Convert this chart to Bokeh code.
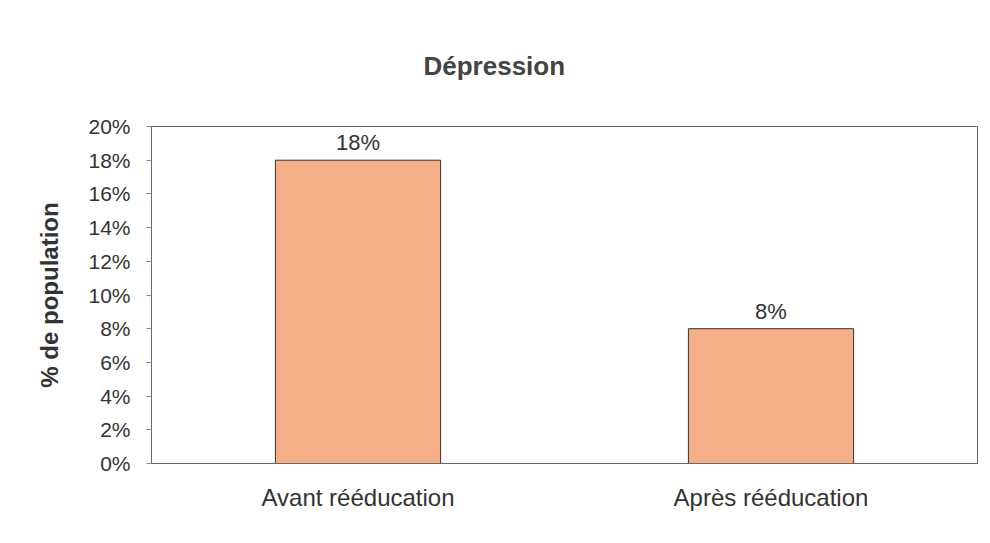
from bokeh.plotting import figure
from bokeh.models import FactorRange, Range1d, ColumnDataSource, NumeralTickFormatter, FixedTicker, LabelSet
from bokeh.core.properties import value
from bokeh.embed import file_html
from bokeh.resources import INLINE

title_text = "Dépression"
categories = ["Avant rééducation", "Après rééducation"]
values = [0.18, 0.08]
value_labels = ["18%", "8%"]
y_ticks = [0, 0.02, 0.04, 0.06, 0.08, 0.10, 0.12, 0.14, 0.16, 0.18, 0.20]
y_label = "% de population"

FONT = "Liberation Sans"

src = ColumnDataSource(dict(cat=categories, val=values, lab=value_labels))

p = figure(width=982, height=527, x_range=FactorRange(*categories, range_padding=0),
           y_range=Range1d(0, 0.2), output_backend="svg", toolbar_location=None,
           min_border_left=151, min_border_right=5, min_border_top=126, min_border_bottom=64)

p.vbar(x="cat", top="val", width=0.4, source=src, fill_color="#F5AE86",
       line_color="#333333", line_width=1)

labels = LabelSet(x="cat", y="val", text="lab", source=src, text_align="center",
                  text_baseline="bottom", y_offset=5, text_font=value(FONT),
                  text_font_size="22px", text_color="#333333")
p.add_layout(labels)

p.title.text = title_text
p.title.align = "left"
p.title.text_font = FONT
p.title.text_font_style = "bold"
p.title.text_font_size = "26px"
p.title.text_color = "#444444"
p.title.offset = 272
p.title.standoff = 92

p.xgrid.grid_line_color = None
p.ygrid.grid_line_color = None
p.outline_line_color = "#666666"
p.outline_line_width = 1
p.background_fill_color = "white"
p.border_fill_color = "white"

p.yaxis.ticker = FixedTicker(ticks=y_ticks)
p.yaxis.formatter = NumeralTickFormatter(format="0%")
p.yaxis.major_label_text_font = FONT
p.yaxis.major_label_text_font_size = "21px"
p.yaxis.major_label_text_color = "#333333"
p.yaxis.major_label_standoff = 16
p.yaxis.major_tick_out = 5
p.yaxis.major_tick_in = 0
p.yaxis.minor_tick_line_color = None
p.yaxis.axis_line_color = "#666666"
p.yaxis.major_tick_line_color = "#888888"
p.yaxis.axis_label = y_label
p.yaxis.axis_label_text_font = FONT
p.yaxis.axis_label_text_font_style = "bold"
p.yaxis.axis_label_text_font_size = "24px"
p.yaxis.axis_label_text_color = "#333333"
p.yaxis.axis_label_standoff = 22

p.xaxis.major_tick_line_color = None
p.xaxis.minor_tick_line_color = None
p.xaxis.axis_line_color = "#666666"
p.xaxis.major_label_text_font = FONT
p.xaxis.major_label_text_font_size = "24px"
p.xaxis.major_label_text_color = "#333333"
p.xaxis.major_label_standoff = 14

open("out.html", "w").write(file_html(p, INLINE))
